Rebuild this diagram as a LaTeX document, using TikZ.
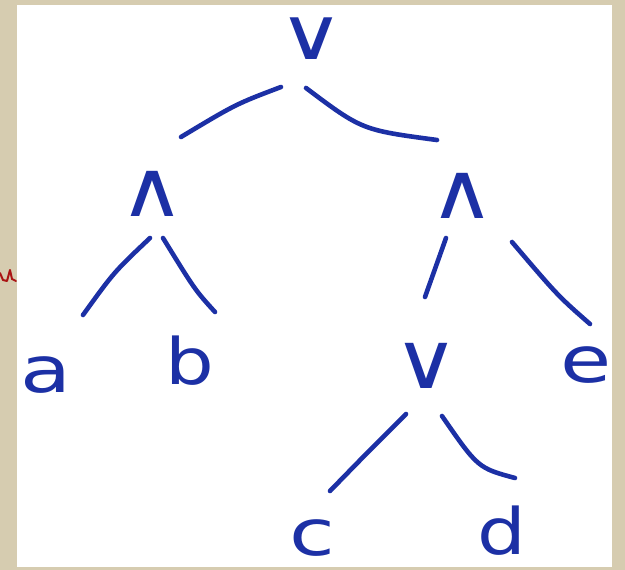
\documentclass[tikz,border=0pt]{standalone}
\usepackage{fontspec}
\setmainfont{DejaVu Sans}
\definecolor{ink}{RGB}{28,48,165}
\definecolor{paper}{RGB}{214,204,176}
\definecolor{redink}{RGB}{170,20,20}
\begin{document}
\begin{tikzpicture}[x=1pt,y=-1pt,
  sym/.style={text=ink, inner sep=0pt, font=\fontsize{64}{64}\selectfont},
  op/.style={text=ink, inner sep=0pt, font=\fontsize{60}{60}\selectfont},
  branch/.style={draw=ink, line width=4.6pt, line cap=round}]
\fill[paper] (0,0) rectangle (625,570);
\fill[white] (17,5) rectangle (612,567);
\useasboundingbox (0,0) rectangle (625,570);
% red fragment at the left edge
\draw[redink, line width=2pt, line cap=round, line join=round]
  (0,273) -- (3,280) -- (7,281) -- (10,270) -- (12,279) -- (16,281);
% nodes
\node[op] (or1)  at (311,39)  {\scalebox{1.5}[1.2]{∨}};
\node[op] (and1) at (152,194) {\scalebox{1.5}[1.3]{∧}};
\node[op] (and2) at (462,196) {\scalebox{1.5}[1.3]{∧}};
\node[sym] (a)    at (46,375)  {\scalebox{1.3}[1]{a}};
\node[sym] (b)    at (190,361) {\scalebox{1.2}[1]{b}};
\node[op] (or2)  at (426,366) {\scalebox{1.5}[1.3]{∨}};
\node[sym] (e)    at (586,365) {\scalebox{1.3}[1]{e}};
\node[sym] (c)    at (312,538) {\scalebox{1.3}[1]{c}};
\node[sym] (d)    at (502,531) {\scalebox{1.2}[1]{d}};
% connector end points
\coordinate (or1L) at (281,87);   \coordinate (and1T) at (181,137);
\coordinate (or1R) at (306,88);   \coordinate (and2T) at (437,140);
\coordinate (and1L) at (150,238); \coordinate (aT) at (83,315);
\coordinate (and1R) at (163,238); \coordinate (bT) at (215,312);
\coordinate (and2L) at (446,238); \coordinate (or2T) at (425,297);
\coordinate (and2R) at (512,242); \coordinate (eT) at (590,324);
\coordinate (or2L) at (406,414);  \coordinate (cT) at (330,491);
\coordinate (or2R) at (442,416);  \coordinate (dT) at (515,478);
% connectors
\draw[branch] (or1L) .. controls (236,104) .. (and1T);
\draw[branch] (or1R) .. controls (362,130) .. (and2T);
\draw[branch] (and1L) .. controls (114,272) .. (aT);
\draw[branch] (and1R) .. controls (195,290) .. (bT);
\draw[branch] (and2L) -- (or2T);
\draw[branch] (and2R) .. controls (558,296) .. (eT);
\draw[branch] (or2L) .. controls (366,454) .. (cT);
\draw[branch] (or2R) .. controls (478,468) .. (dT);
\end{tikzpicture}
\end{document}
